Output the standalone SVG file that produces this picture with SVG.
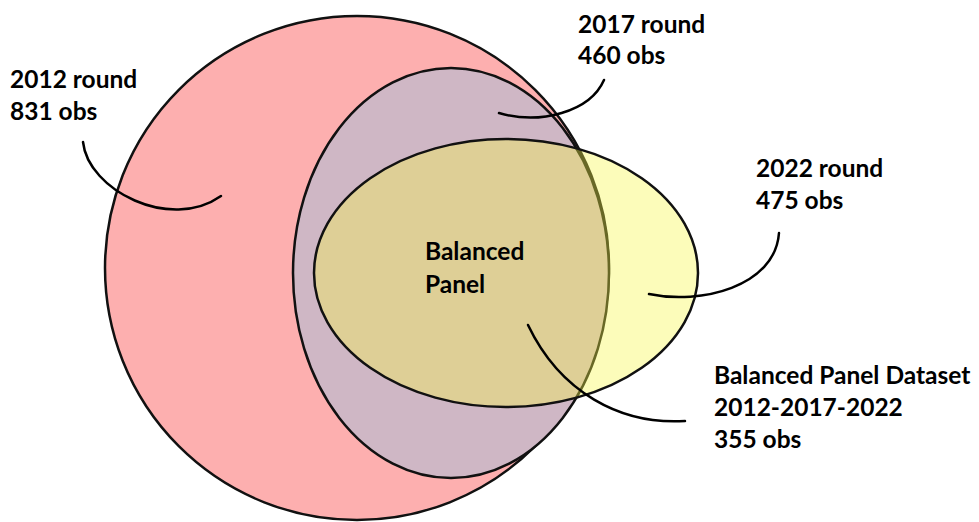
<svg xmlns="http://www.w3.org/2000/svg" width="979" height="522" viewBox="0 0 979 522">
<style>
.shape{stroke:#111;stroke-width:2.5}
.lbl{font-family:Lato,"Liberation Sans",sans-serif;font-weight:bold;font-size:24.5px;fill:#000}
.conn{fill:none;stroke:#000;stroke-width:2.5;stroke-linecap:round}
</style>
<rect width="979" height="522" fill="#fff"/>
<g id="set2012">
<circle class="shape" cx="357" cy="268" r="252" fill="#FDAFAF"/>
</g>
<g id="set2017">
<ellipse class="shape" cx="451" cy="273" rx="158" ry="205" fill="#CFB7C5"/>
</g>
<g id="set2022">
<ellipse class="shape" cx="506" cy="273" rx="192" ry="134" fill="#F7F74A" fill-opacity="0.38"/>
</g>
<g id="labels">
<text class="lbl" x="10" y="88">2012 round</text>
<text class="lbl" x="10" y="120">831 obs</text>
<text class="lbl" x="578" y="33">2017 round</text>
<text class="lbl" x="578" y="64">460 obs</text>
<text class="lbl" x="756" y="177">2022 round</text>
<text class="lbl" x="756" y="209">475 obs</text>
<text class="lbl" x="425" y="260">Balanced</text>
<text class="lbl" x="425" y="293">Panel</text>
<text class="lbl" x="714" y="384">Balanced Panel Dataset</text>
<text class="lbl" x="714" y="416">2012-2017-2022</text>
<text class="lbl" x="714" y="448">355 obs</text>
</g>
<g id="connectors">
<path class="conn" d="M83,142 C88,190 170,232 221,196"/>
<path class="conn" d="M499,113 C540,125 590,112 604,80"/>
<path class="conn" d="M649,294 C700,305 775,287 779,233"/>
<path class="conn" d="M528,325 C560,392 620,425 685,421"/>
</g>
</svg>
